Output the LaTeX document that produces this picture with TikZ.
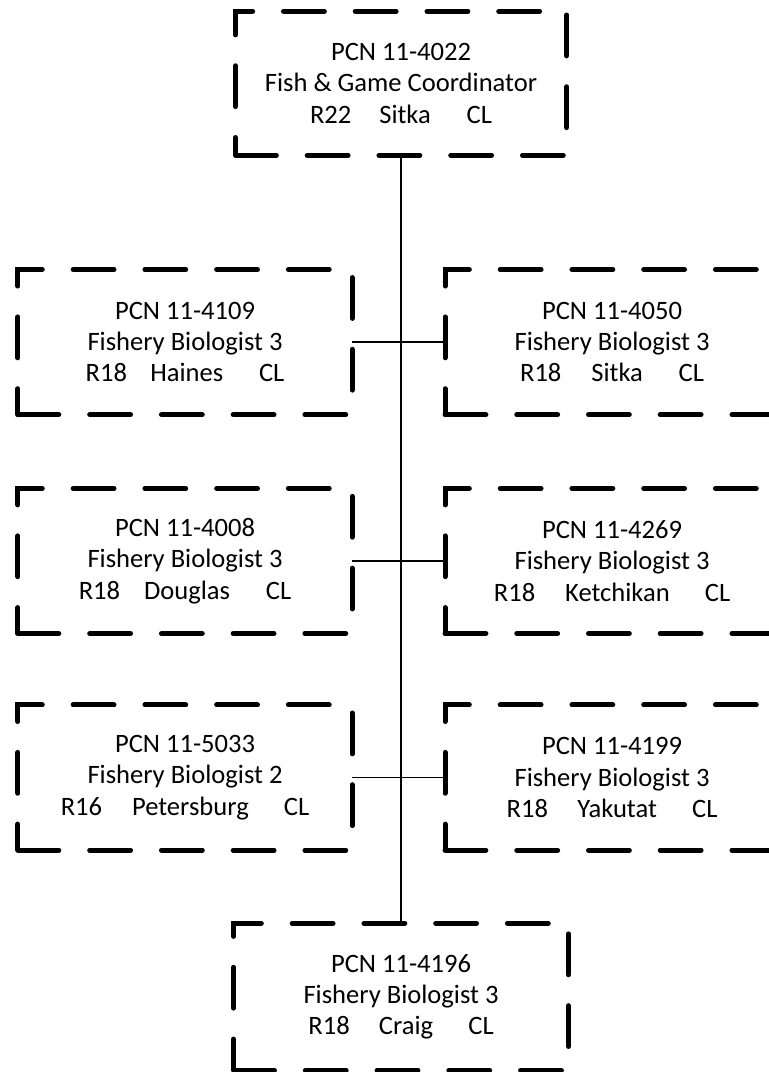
\documentclass[tikz,border=0pt]{standalone}
\usepackage{fontspec}
\setmainfont{Carlito}
\usepackage{tikz}
\usetikzlibrary{arrows.meta}

\begin{document}
\begin{tikzpicture}
				\useasboundingbox (0,0) rectangle (20.32,-28.36);
				\begin{scope}[every node/.style = {rectangle, draw, line width=3.75pt,
						dash pattern=on 30.75pt off 23.25pt, line cap=round,
						align=center, inner sep=0pt, outer sep=0pt,
						minimum width=8.84cm, minimum height=3.84cm,
						font=\fontsize{20}{23.6}\selectfont}]
					\node (Coord) at (10.61,-2.2) [minimum width=8.76cm, minimum height=3.81cm]
						{PCN 11-4022\\Fish \& Game Coordinator\\R22\hspace{21pt}Sitka\hspace{27pt}CL};
					\node (Haines) at (4.895,-9.05)
						{PCN 11-4109\\Fishery Biologist 3\\R18\hspace{17.5pt}Haines\hspace{27pt}CL};
					\node (Sitka) at (16.193,-9.05)
						{PCN 11-4050\\Fishery Biologist 3\\R18\hspace{22.5pt}Sitka\hspace{27pt}CL};
					\node (Douglas) at (4.895,-14.84)
						{PCN 11-4008\\Fishery Biologist 3\\R18\hspace{18pt}Douglas\hspace{27pt}CL};
					\node (Ketchikan) at (16.193,-14.84)
						{PCN 11-4269\\Fishery Biologist 3\\R18\hspace{22.5pt}Ketchikan\hspace{26.5pt}CL};
					\node (Petersburg) at (4.895,-20.57)
						{PCN 11-5033\\Fishery Biologist 2\\R16\hspace{22.5pt}Petersburg\hspace{26.5pt}CL};
					\node (Yakutat) at (16.193,-20.57)
						{PCN 11-4199\\Fishery Biologist 3\\R18\hspace{22pt}Yakutat\hspace{26.5pt}CL};
					\node (Craig) at (10.61,-26.37) [minimum width=8.86cm, minimum height=3.89cm]
						{PCN 11-4196\\Fishery Biologist 3\\R18\hspace{22pt}Craig\hspace{26.5pt}CL};
				\end{scope}
				\begin{scope}[every edge/.style={draw=black, line width=1pt}]
					\path [-] (Coord) edge (Craig);
					\path [-] (Haines) edge (Sitka);
					\path [-] (Douglas) edge (Ketchikan);
					\path [-] (Petersburg) edge (Yakutat);
				\end{scope}
\end{tikzpicture}
\end{document}
